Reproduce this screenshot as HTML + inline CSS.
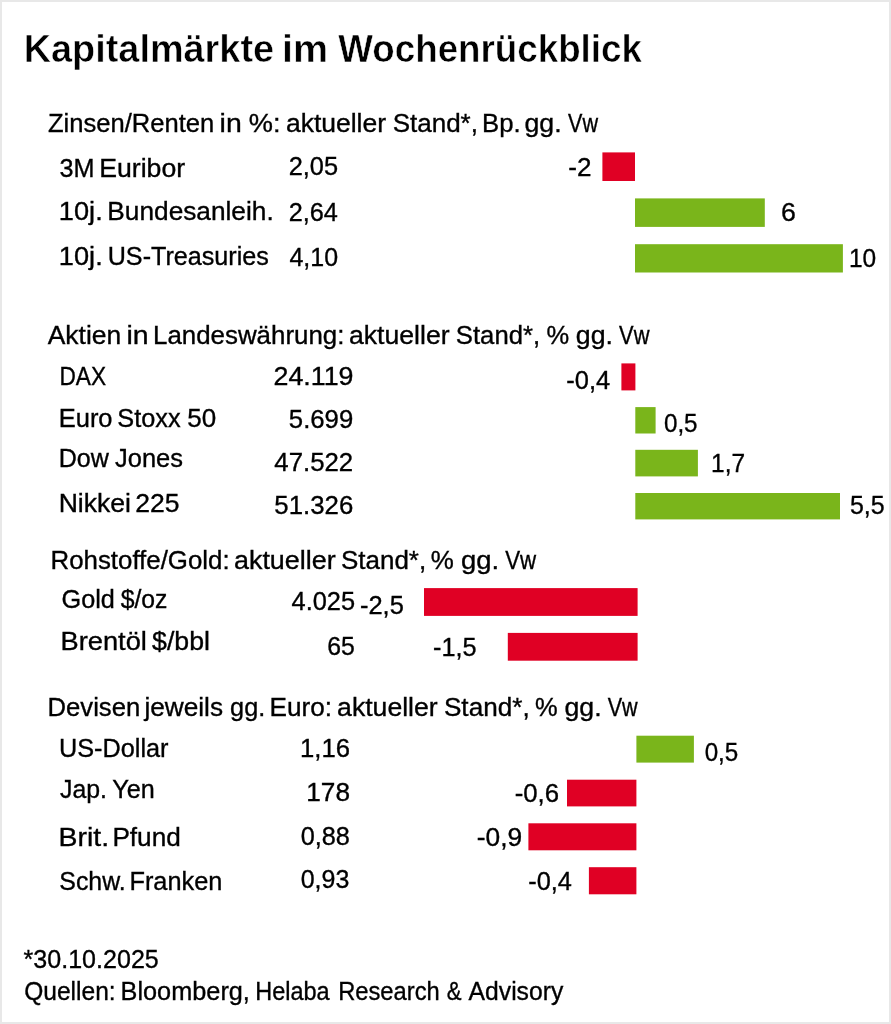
<!DOCTYPE html>
<html><head><meta charset="utf-8"><style>
html,body{margin:0;padding:0;background:#fff;}
body{width:891px;height:1024px;overflow:hidden;position:relative;}
.frame{position:absolute;left:0;top:0;width:887px;height:1020px;border:2px solid #e8e8e8;background:#fff;}
svg{position:absolute;left:0;top:0;will-change:transform;}
text{font-family:"Liberation Sans",sans-serif;fill:#000;}
text.r{stroke:#000;stroke-width:0.35px;}
text.b{stroke:#fff;stroke-width:0.5px;}
</style></head><body><div class="frame"></div>
<svg width="891" height="1024" viewBox="0 0 891 1024">
<rect x="602.4" y="152.4" width="32.6" height="28.6" fill="#e00024"/>
<rect x="635.0" y="198.4" width="129.8" height="28.5" fill="#7ab51b"/>
<rect x="635.0" y="244.2" width="207.9" height="28.3" fill="#7ab51b"/>
<rect x="621.4" y="363.4" width="14.0" height="27.0" fill="#e00024"/>
<rect x="635.3" y="407.1" width="20.3" height="26.4" fill="#7ab51b"/>
<rect x="635.3" y="449.8" width="62.6" height="26.6" fill="#7ab51b"/>
<rect x="635.3" y="493.0" width="204.7" height="26.4" fill="#7ab51b"/>
<rect x="424.0" y="588.1" width="213.6" height="27.8" fill="#e00024"/>
<rect x="507.8" y="632.9" width="129.8" height="27.8" fill="#e00024"/>
<rect x="636.4" y="735.7" width="57.5" height="26.9" fill="#7ab51b"/>
<rect x="567.0" y="779.7" width="69.4" height="26.7" fill="#e00024"/>
<rect x="528.4" y="823.3" width="108.0" height="27.0" fill="#e00024"/>
<rect x="588.9" y="867.2" width="47.5" height="27.1" fill="#e00024"/>
<text class="b" transform="translate(23.68 62.00) scale(0.9675 1)" font-size="39.14" font-weight="bold">Kapitalmärkte</text>
<text class="b" transform="translate(281.98 62.00) scale(1.0094 1)" font-size="39.14" font-weight="bold">im</text>
<text class="b" transform="translate(338.35 62.00) scale(0.9390 1)" font-size="39.14" font-weight="bold">Wochenrückblick</text>
<text class="r" transform="translate(47.91 131.50) scale(1.0056 1)" font-size="25.43">Zinsen/Renten</text>
<text class="r" transform="translate(219.57 131.50) scale(1.1192 1)" font-size="25.43">in</text>
<text class="r" transform="translate(248.76 131.50) scale(1.0699 1)" font-size="25.43">%:</text>
<text class="r" transform="translate(285.92 131.50) scale(1.0418 1)" font-size="25.43">aktueller</text>
<text class="r" transform="translate(392.63 131.50) scale(1.0233 1)" font-size="25.43">Stand*,</text>
<text class="r" transform="translate(482.12 131.50) scale(1.0101 1)" font-size="25.43">Bp.</text>
<text class="r" transform="translate(524.41 131.50) scale(1.0512 1)" font-size="25.43">gg.</text>
<text class="r" transform="translate(568.07 131.50) scale(0.8485 1)" font-size="25.43">Vw</text>
<text class="r" transform="translate(47.67 343.80) scale(1.0402 1)" font-size="25.43">Aktien</text>
<text class="r" transform="translate(126.47 343.80) scale(1.1192 1)" font-size="25.43">in</text>
<text class="r" transform="translate(153.00 343.80) scale(1.0182 1)" font-size="25.43">Landeswährung:</text>
<text class="r" transform="translate(349.01 343.80) scale(1.0471 1)" font-size="25.43">aktueller</text>
<text class="r" transform="translate(455.85 343.80) scale(1.0108 1)" font-size="25.43">Stand*,</text>
<text class="r" transform="translate(546.51 343.80) scale(1.0019 1)" font-size="25.43">%</text>
<text class="r" transform="translate(575.81 343.80) scale(1.0512 1)" font-size="25.43">gg.</text>
<text class="r" transform="translate(619.07 343.80) scale(0.8598 1)" font-size="25.43">Vw</text>
<text class="r" transform="translate(50.51 568.80) scale(1.0172 1)" font-size="25.43">Rohstoffe/Gold:</text>
<text class="r" transform="translate(234.00 568.80) scale(1.0576 1)" font-size="25.43">aktueller</text>
<text class="r" transform="translate(340.94 568.80) scale(1.0221 1)" font-size="25.43">Stand*,</text>
<text class="r" transform="translate(430.80 568.80) scale(1.0208 1)" font-size="25.43">%</text>
<text class="r" transform="translate(461.08 568.80) scale(1.0792 1)" font-size="25.43">gg.</text>
<text class="r" transform="translate(505.18 568.80) scale(0.8767 1)" font-size="25.43">Vw</text>
<text class="r" transform="translate(47.52 716.00) scale(1.0093 1)" font-size="25.43">Devisen</text>
<text class="r" transform="translate(144.46 716.00) scale(1.0291 1)" font-size="25.43">jeweils</text>
<text class="r" transform="translate(230.06 716.00) scale(0.9951 1)" font-size="25.43">gg.</text>
<text class="r" transform="translate(269.48 716.00) scale(1.0288 1)" font-size="25.43">Euro:</text>
<text class="r" transform="translate(337.11 716.00) scale(1.0471 1)" font-size="25.43">aktueller</text>
<text class="r" transform="translate(443.93 716.00) scale(1.0283 1)" font-size="25.43">Stand*,</text>
<text class="r" transform="translate(535.11 716.00) scale(1.0019 1)" font-size="25.43">%</text>
<text class="r" transform="translate(564.41 716.00) scale(1.0512 1)" font-size="25.43">gg.</text>
<text class="r" transform="translate(607.67 716.00) scale(0.8485 1)" font-size="25.43">Vw</text>
<text class="r" transform="translate(59.52 176.50) scale(0.9920 1)" font-size="25.43">3M</text>
<text class="r" transform="translate(99.24 176.50) scale(1.0480 1)" font-size="25.43">Euribor</text>
<text class="r" transform="translate(288.70 175.00) scale(0.9987 1)" font-size="25.43">2,05</text>
<text class="r" transform="translate(568.23 175.60) scale(1.0257 1)" font-size="25.43">-2</text>
<text class="r" transform="translate(58.87 220.20) scale(1.0691 1)" font-size="25.43">10j.</text>
<text class="r" transform="translate(107.37 220.20) scale(1.0325 1)" font-size="25.43">Bundesanleih.</text>
<text class="r" transform="translate(288.71 220.90) scale(0.9933 1)" font-size="25.43">2,64</text>
<text class="r" transform="translate(780.94 221.40) scale(1.0498 1)" font-size="25.43">6</text>
<text class="r" transform="translate(58.87 265.00) scale(1.0691 1)" font-size="25.43">10j.</text>
<text class="r" transform="translate(107.71 265.00) scale(0.9893 1)" font-size="25.43">US-Treasuries</text>
<text class="r" transform="translate(289.48 265.80) scale(0.9828 1)" font-size="25.43">4,10</text>
<text class="r" transform="translate(848.96 267.30) scale(0.9632 1)" font-size="25.43">10</text>
<text class="r" transform="translate(59.46 384.90) scale(0.8920 1)" font-size="25.43">DAX</text>
<text class="r" transform="translate(273.53 385.30) scale(1.0543 1)" font-size="25.43">24.119</text>
<text class="r" transform="translate(566.36 388.80) scale(1.0025 1)" font-size="25.43">-0,4</text>
<text class="r" transform="translate(58.74 426.50) scale(1.0015 1)" font-size="25.43">Euro</text>
<text class="r" transform="translate(117.26 426.50) scale(0.9953 1)" font-size="25.43">Stoxx</text>
<text class="r" transform="translate(187.23 426.50) scale(1.0226 1)" font-size="25.43">50</text>
<text class="r" transform="translate(288.85 428.40) scale(1.0113 1)" font-size="25.43">5.699</text>
<text class="r" transform="translate(663.95 432.20) scale(0.9517 1)" font-size="25.43">0,5</text>
<text class="r" transform="translate(58.77 466.90) scale(0.9858 1)" font-size="25.43">Dow</text>
<text class="r" transform="translate(115.02 466.90) scale(1.0029 1)" font-size="25.43">Jones</text>
<text class="r" transform="translate(274.36 471.40) scale(1.0136 1)" font-size="25.43">47.522</text>
<text class="r" transform="translate(711.06 471.60) scale(0.9613 1)" font-size="25.43">1,7</text>
<text class="r" transform="translate(58.65 512.30) scale(1.0444 1)" font-size="25.43">Nikkei</text>
<text class="r" transform="translate(135.15 512.30) scale(1.0448 1)" font-size="25.43">225</text>
<text class="r" transform="translate(274.34 513.90) scale(1.0144 1)" font-size="25.43">51.326</text>
<text class="r" transform="translate(849.97 514.00) scale(0.9829 1)" font-size="25.43">5,5</text>
<text class="r" transform="translate(61.51 608.20) scale(0.9926 1)" font-size="25.43">Gold</text>
<text class="r" transform="translate(120.63 608.20) scale(0.9732 1)" font-size="25.43">$/oz</text>
<text class="r" transform="translate(291.57 609.90) scale(0.9989 1)" font-size="25.43">4.025</text>
<text class="r" transform="translate(359.96 614.20) scale(1.0014 1)" font-size="25.43">-2,5</text>
<text class="r" transform="translate(60.60 649.90) scale(1.0712 1)" font-size="25.43">Brentöl</text>
<text class="r" transform="translate(152.11 649.90) scale(1.0494 1)" font-size="25.43">$/bbl</text>
<text class="r" transform="translate(327.33 655.10) scale(0.9751 1)" font-size="25.43">65</text>
<text class="r" transform="translate(432.96 655.80) scale(0.9942 1)" font-size="25.43">-1,5</text>
<text class="r" transform="translate(59.01 756.50) scale(0.9938 1)" font-size="25.43">US-Dollar</text>
<text class="r" transform="translate(299.98 757.40) scale(1.0095 1)" font-size="25.43">1,16</text>
<text class="r" transform="translate(704.65 760.70) scale(0.9517 1)" font-size="25.43">0,5</text>
<text class="r" transform="translate(60.03 798.20) scale(0.9773 1)" font-size="25.43">Jap.</text>
<text class="r" transform="translate(112.27 798.20) scale(0.9894 1)" font-size="25.43">Yen</text>
<text class="r" transform="translate(306.24 801.30) scale(1.0305 1)" font-size="25.43">178</text>
<text class="r" transform="translate(514.64 802.00) scale(1.0133 1)" font-size="25.43">-0,6</text>
<text class="r" transform="translate(58.50 846.10) scale(1.1197 1)" font-size="25.43">Brit.</text>
<text class="r" transform="translate(112.38 846.10) scale(1.0293 1)" font-size="25.43">Pfund</text>
<text class="r" transform="translate(300.72 845.30) scale(0.9943 1)" font-size="25.43">0,88</text>
<text class="r" transform="translate(476.72 845.80) scale(1.0363 1)" font-size="25.43">-0,9</text>
<text class="r" transform="translate(59.28 889.50) scale(0.9790 1)" font-size="25.43">Schw.</text>
<text class="r" transform="translate(129.45 889.50) scale(0.9967 1)" font-size="25.43">Franken</text>
<text class="r" transform="translate(300.73 888.40) scale(0.9818 1)" font-size="25.43">0,93</text>
<text class="r" transform="translate(528.26 889.50) scale(0.9954 1)" font-size="25.43">-0,4</text>
<text class="r" transform="translate(23.62 967.60) scale(0.9855 1)" font-size="25.43">*30.10.2025</text>
<text class="r" transform="translate(24.19 1000.40) scale(0.9658 1)" font-size="25.43">Quellen:</text>
<text class="r" transform="translate(120.55 1000.40) scale(0.9948 1)" font-size="25.43">Bloomberg,</text>
<text class="r" transform="translate(255.20 1000.40) scale(0.9235 1)" font-size="25.43">Helaba</text>
<text class="r" transform="translate(338.18 1000.40) scale(0.9332 1)" font-size="25.43">Research</text>
<text class="r" transform="translate(446.71 1000.40) scale(0.8706 1)" font-size="25.43">&amp;</text>
<text class="r" transform="translate(468.57 1000.40) scale(0.9715 1)" font-size="25.43">Advisory</text>
</svg></body></html>
